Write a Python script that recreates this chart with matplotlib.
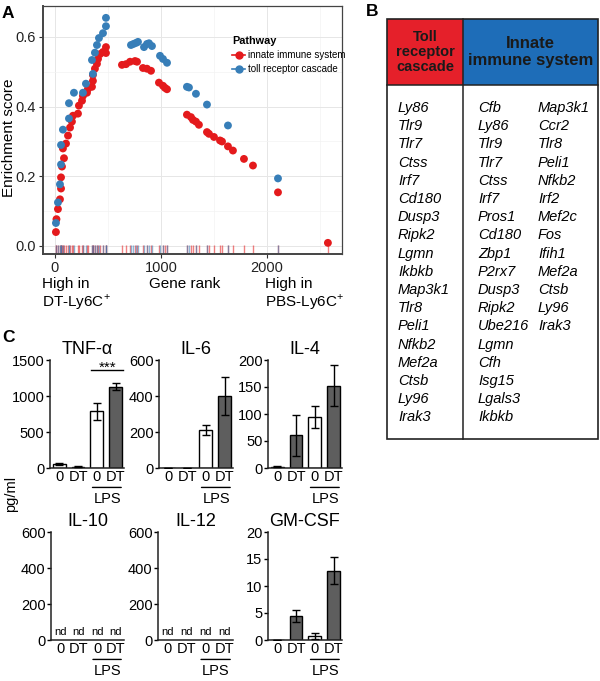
import matplotlib
matplotlib.use("Agg")
import matplotlib.pyplot as plt
import numpy as np
from matplotlib.lines import Line2D
from matplotlib.patches import Rectangle

W, H = 600, 681
plt.rcParams["font.family"] = ["Liberation Sans", "DejaVu Sans"]

# ---- panel A: running enrichment score
innate_rank = [9, 14, 28, 47, 57, 57, 66, 85, 75, 104, 123, 142, 160, 170, 217, 226, 255,
               264, 302, 311, 349, 358, 358, 377, 396, 406, 425, 453, 481, 481,
               632, 670, 708, 755, 774, 830, 868, 906, 981, 1019, 1038, 1057,
               1245, 1283, 1302, 1330, 1358, 1434, 1453, 1500, 1557, 1576, 1632, 1679,
               1783, 1868, 2104, 2575]
innate_es = [0.04, 0.077, 0.106, 0.134, 0.165, 0.197, 0.228, 0.252, 0.28, 0.294, 0.317, 0.34,
             0.357, 0.374, 0.38, 0.403, 0.417, 0.431, 0.44, 0.451, 0.457, 0.474, 0.491, 0.509,
             0.523, 0.537, 0.551, 0.557, 0.554, 0.571,
             0.52, 0.522, 0.529, 0.531, 0.529, 0.511, 0.509, 0.503, 0.469, 0.46, 0.454, 0.45,
             0.377, 0.37, 0.362, 0.357, 0.348, 0.327, 0.322, 0.313, 0.303, 0.30, 0.286, 0.274,
             0.25, 0.231, 0.154, 0.009]
toll_rank = [9, 28, 47, 57, 57, 75, 132, 132, 179, 264, 292, 358, 349, 377, 396, 415, 453,
             481, 481, 717, 740, 764, 783, 840, 868, 887, 915, 991, 1019, 1057,
             1245, 1264, 1330, 1434, 1632, 2104]
toll_es = [0.066, 0.125, 0.177, 0.234, 0.29, 0.334, 0.366, 0.41, 0.44, 0.44, 0.466, 0.494,
           0.534, 0.555, 0.577, 0.597, 0.611, 0.631, 0.655, 0.577, 0.58, 0.583, 0.586,
           0.571, 0.58, 0.582, 0.574, 0.546, 0.537, 0.526,
           0.457, 0.455, 0.437, 0.406, 0.346, 0.194]

# ---- panel B: leading-edge genes
toll_genes = ["Ly86", "Tlr9", "Tlr7", "Ctss", "Irf7", "Cd180", "Dusp3", "Ripk2", "Lgmn",
              "Ikbkb", "Map3k1", "Tlr8", "Peli1", "Nfkb2", "Mef2a", "Ctsb", "Ly96", "Irak3"]
innate_genes_1 = ["Cfb", "Ly86", "Tlr9", "Tlr7", "Ctss", "Irf7", "Pros1", "Cd180", "Zbp1",
                  "P2rx7", "Dusp3", "Ripk2", "Ube216", "Lgmn", "Cfh", "Isg15", "Lgals3", "Ikbkb"]
innate_genes_2 = ["Map3k1", "Ccr2", "Tlr8", "Peli1", "Nfkb2", "Irf2", "Mef2c", "Fos", "Ifih1",
                  "Mef2a", "Ctsb", "Ly96", "Irak3"]

# ---- panel C: cytokines (pg/ml), conditions 0, DT, 0+LPS, DT+LPS
conditions = ["0", "DT", "0", "DT"]
tnf_mean, tnf_err = [55, 20, 785, 1130], [8, 4, 120, 45]
il6_mean, il6_err = [2, 1, 212, 400], [0, 0, 28, 105]
il4_mean, il4_err = [2, 61, 94, 152], [1, 38, 20, 38]
gmcsf_mean, gmcsf_err = [0, 4.5, 0.75, 12.8], [0, 1.1, 0.6, 2.5]

RED = "#E41A1C"
BLUE = "#377EB8"


def px_axes(fig, x0, y0, x1, y1):
    return fig.add_axes([x0 / W, 1 - y1 / H, (x1 - x0) / W, (y1 - y0) / H])


fig = plt.figure(figsize=(W / 100, H / 100), dpi=100)

# overlay in pixel coordinates for table and loose labels
ov = fig.add_axes([0, 0, 1, 1], zorder=-1)
ov.set_xlim(0, W)
ov.set_ylim(H, 0)
ov.axis("off")

# ================= panel A =================
ax = px_axes(fig, 43, 6, 342, 254)
ax.set_xlim(-113, 2708)
ax.set_ylim(-0.023, 0.689)
ax.set_xticks([0, 1000, 2000])
ax.set_xticks([500, 1500, 2500], minor=True)
ax.set_yticks([0.0, 0.2, 0.4, 0.6])
ax.set_yticks([0.1, 0.3, 0.5], minor=True)
ax.grid(True, which="major", color="#e6e6e6", lw=0.7)
ax.grid(True, which="minor", color="#f3f3f3", lw=0.5)
ax.set_axisbelow(True)
ax.tick_params(which="major", length=3, color="#333333", labelsize=10.5, labelcolor="#222222", pad=2)
ax.tick_params(which="minor", length=0)
for side, sp in ax.spines.items():
    sp.set_color("#444444")
    sp.set_linewidth(1.4 if side in ("left", "bottom") else 0.9)
ov.text(9, 138, "Enrichment score", fontsize=11, rotation=90, ha="center", va="center")

ax.vlines(innate_rank, 0, 0.035, transform=ax.get_xaxis_transform(), colors=RED, lw=1, alpha=0.55)
ax.vlines(toll_rank, 0, 0.035, transform=ax.get_xaxis_transform(), colors=BLUE, lw=1, alpha=0.55)
ax.scatter(innate_rank, innate_es, s=32, color=RED, edgecolors="none", zorder=3)
ax.scatter(toll_rank, toll_es, s=32, color=BLUE, edgecolors="none", zorder=3)

handles = [Line2D([], [], color=RED, marker="o", markersize=5, lw=1.2),
           Line2D([], [], color=BLUE, marker="o", markersize=5, lw=1.2)]
leg = ax.legend(handles, ["innate immune system", "toll receptor cascade"], title="Pathway",
                loc="upper left", bbox_to_anchor=(0.61, 0.905), frameon=False, fontsize=7,
                title_fontproperties={"weight": "bold", "size": 7.8}, handlelength=1.3,
                handletextpad=0.3, labelspacing=0.4, borderpad=0.2, alignment="left")

sup = r"$^{\mathregular{+}}$"
ov.text(42, 277, "High in\nDT-Ly6C" + sup, fontsize=11, ha="left", va="top", linespacing=1.1)
ov.text(185, 277, "Gene rank", fontsize=11, ha="center", va="top")
ov.text(265, 277, "High in\nPBS-Ly6C" + sup, fontsize=11, ha="left", va="top", linespacing=1.1)

# panel labels
for lab, x, y in [("A", 2, 13), ("B", 366, 12), ("C", 2, 338)]:
    ov.text(x, y, lab, fontsize=12.5, fontweight="bold", ha="left", va="center")

# ================= panel B =================
x0, xm, x1 = 387, 463, 598
y0, yh, y1 = 19, 85, 439
ov.add_patch(Rectangle((x0, y0), xm - x0, yh - y0, facecolor="#E5202A", edgecolor="none"))
ov.add_patch(Rectangle((xm, y0), x1 - xm, yh - y0, facecolor="#1E6DB8", edgecolor="none"))
ov.add_patch(Rectangle((x0, y0), x1 - x0, y1 - y0, facecolor="none", edgecolor="#222222", lw=1.2))
ov.plot([xm, xm], [y0, y1], color="#222222", lw=1.1)
ov.plot([x0, x1], [yh, yh], color="#222222", lw=1.1)
ov.text((x0 + xm) / 2, 52, "Toll\nreceptor\ncascade", fontsize=10.5, fontweight="bold",
        ha="center", va="center", color="#1a1a1a", linespacing=1.1)
ov.text((xm + x1) / 2, 52, "Innate\nimmune system", fontsize=12, fontweight="bold",
        ha="center", va="center", color="#1a1a1a", linespacing=1.15)
for col_x, genes in [(398, toll_genes), (478, innate_genes_1), (538, innate_genes_2)]:
    for i, g in enumerate(genes):
        ov.text(col_x, 108 + i * 18.2, g, fontsize=10.5, fontstyle="italic",
                ha="left", va="center")

# ================= panel C =================
panels = [
    ("TNF-\u03b1", tnf_mean, tnf_err, [0, 500, 1000, 1500], (50, 360, 124, 468)),
    ("IL-6", il6_mean, il6_err, [0, 200, 400, 600], (159, 360, 233, 468)),
    ("IL-4", il4_mean, il4_err, [0, 50, 100, 150, 200], (268, 360, 342, 468)),
    ("IL-10", None, None, [0, 200, 400, 600], (51, 532, 124, 640)),
    ("IL-12", None, None, [0, 200, 400, 600], (158, 532, 233, 640)),
    ("GM-CSF", gmcsf_mean, gmcsf_err, [0, 5, 10, 15, 20], (268, 532, 342, 640)),
]
pos = np.arange(len(conditions))
fills = ["white", "#5e5e5e", "white", "#5e5e5e"]
for title, mean, err, yticks, box in panels:
    a = px_axes(fig, *box)
    a.set_xlim(-0.5, 3.45)
    a.set_ylim(0, yticks[-1])
    a.set_yticks(yticks)
    a.set_xticks(pos, conditions)
    a.tick_params(axis="y", length=3, width=1, labelsize=10.5, pad=1)
    a.tick_params(axis="x", length=0, labelsize=10.5, pad=1.5)
    for s in ("top", "right"):
        a.spines[s].set_visible(False)
    for s in ("left", "bottom"):
        a.spines[s].set_linewidth(1.1)
        a.spines[s].set_color("#222222")
    a.set_title(title, fontsize=13, pad=4)
    if mean is None:
        for p in pos:
            a.text(p, yticks[-1] * 0.075, "nd", fontsize=8, ha="center", va="center")
    else:
        a.bar(pos, mean, width=0.68, color=fills, edgecolor="black", lw=1, zorder=2)
        a.errorbar(pos, mean, yerr=err, fmt="none", ecolor="black", elinewidth=1,
                   capsize=3, capthick=1, zorder=3)
    a.annotate("", xy=(1.62, -0.18), xytext=(3.45, -0.18),
               xycoords=("data", "axes fraction"), textcoords=("data", "axes fraction"),
               arrowprops=dict(arrowstyle="-", lw=1, color="black"), annotation_clip=False)
    a.text(2.55, -0.29, "LPS", fontsize=10.5, ha="center", va="center",
           transform=a.get_xaxis_transform())
    if title.startswith("TNF"):
        a.plot([1.7, 3.4], [1360, 1360], color="black", lw=1, clip_on=False)
        a.text(2.55, 1335, "***", fontsize=11, ha="center", va="baseline")

ov.text(11, 494, "pg/ml", fontsize=10.5, rotation=90, ha="center", va="center")

fig.savefig("out.png", dpi=100)
